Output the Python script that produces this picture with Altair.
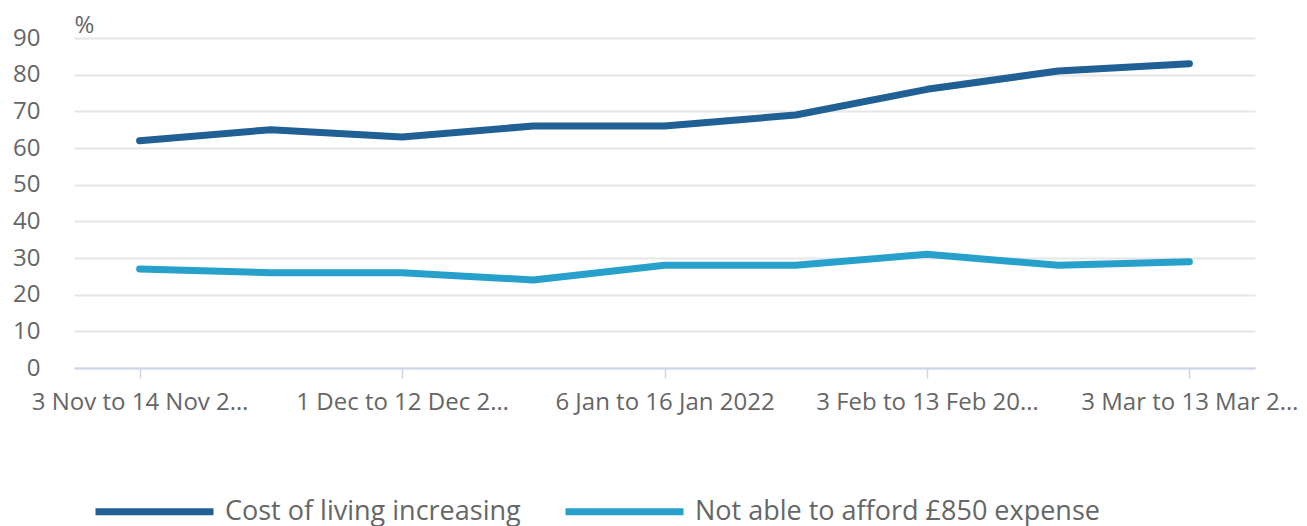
import altair as alt
import pandas as pd

periods = [
    "3 Nov to 14 Nov 2021",
    "16 Nov to 27 Nov 2021",
    "1 Dec to 12 Dec 2021",
    "15 Dec to 27 Dec 2021",
    "6 Jan to 16 Jan 2022",
    "19 Jan to 30 Jan 2022",
    "3 Feb to 13 Feb 2022",
    "16 Feb to 27 Feb 2022",
    "3 Mar to 13 Mar 2022",
]
cost_of_living = [62, 65, 63, 66, 66, 69, 76, 81, 83]
cannot_afford = [27, 26, 26, 24, 28, 28, 31, 28, 29]

series_names = ["Cost of living increasing", "Not able to afford £850 expense"]
series_colors = ["#206095", "#27a0cc"]

rows = []
for p, a, b in zip(periods, cost_of_living, cannot_afford):
    rows.append({"period": p, "series": series_names[0], "value": a})
    rows.append({"period": p, "series": series_names[1], "value": b})
df = pd.DataFrame(rows)

FONT = "Open Sans"
GREY = "#666666"

chart = (
    alt.Chart(df)
    .mark_line(strokeWidth=7, strokeCap="round", strokeJoin="round")
    .encode(
        x=alt.X(
            "period:N",
            sort=periods,
            scale=alt.Scale(type="point", padding=0.5),
            axis=alt.Axis(
                title=None,
                values=periods[::2],
                labelAngle=0,
                labelFont=FONT,
                labelFontSize=24,
                labelColor=GREY,
                labelLimit=224,
                labelPadding=12,
                tickSize=10,
                tickColor="#ccd6eb",
                tickWidth=1.5,
                domainColor="#ccd6eb",
                domainWidth=2,
                grid=False,
            ),
        ),
        y=alt.Y(
            "value:Q",
            scale=alt.Scale(domain=[0, 90], nice=False),
            axis=alt.Axis(
                title="%",
                titleAngle=0,
                titleX=0,
                titleY=-6,
                titleAlign="left",
                titleBaseline="alphabetic",
                titleFont=FONT,
                titleFontSize=24,
                titleFontWeight="normal",
                titleColor=GREY,
                values=list(range(0, 91, 10)),
                labelFont=FONT,
                labelFontSize=24,
                labelColor=GREY,
                labelPadding=34,
                domain=False,
                ticks=False,
                gridColor="#e6e6e6",
                gridWidth=2,
            ),
        ),
        color=alt.Color(
            "series:N",
            scale=alt.Scale(domain=series_names, range=series_colors),
            legend=alt.Legend(
                title=None,
                orient="none",
                legendX=18,
                legendY=411,
                padding=0,
                direction="horizontal",
                symbolType="stroke",
                symbolSize=13924,
                symbolStrokeWidth=7,
                labelFont=FONT,
                labelFontSize=27,
                labelColor=GREY,
                labelOffset=8,
                columnPadding=30,
                labelLimit=500,
            ),
        ),
    )
    .properties(
        width=1181,
        height=330,
        autosize=alt.AutoSizeParams(type="none"),
        padding={"left": 66, "top": 30, "right": 44, "bottom": 175},
    )
    .configure_view(stroke=None)
)

chart.save("out.html", embed_options={"renderer": "svg", "actions": False})
